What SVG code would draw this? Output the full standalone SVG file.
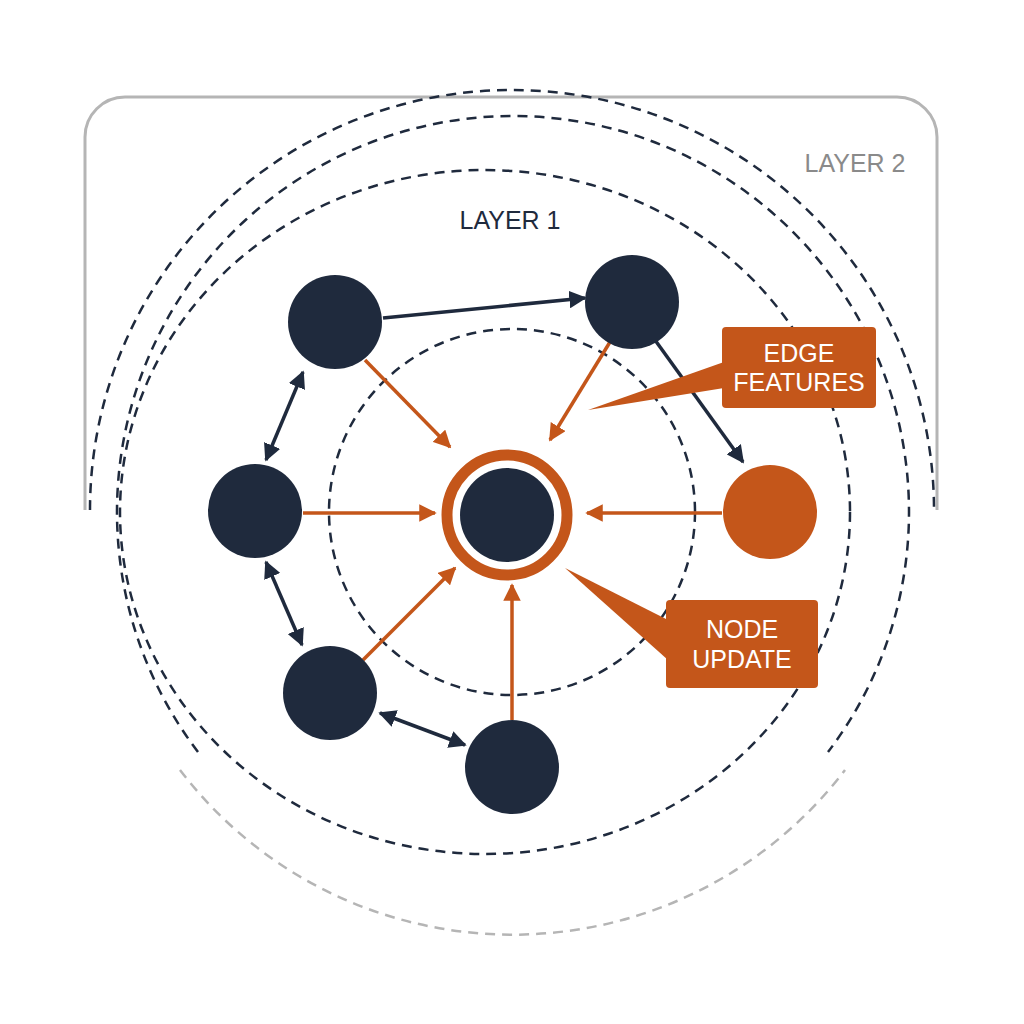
<svg xmlns="http://www.w3.org/2000/svg" width="1024" height="1024" viewBox="0 0 1024 1024">
<defs>
<style>
.n{fill:#1f2a3d}
.d{fill:none;stroke:#1f2a3d;stroke-width:2.5;stroke-dasharray:10 7}
.e{stroke:#1f2a3d;stroke-width:3.5;fill:none}
.o{stroke:#c4561a;stroke-width:3.5;fill:none}
.t{font-family:"Liberation Sans",Arial,sans-serif;font-size:25px;text-anchor:middle}
</style>
<marker id="ad" viewBox="0 0 10 10" refX="9" refY="5" markerWidth="5" markerHeight="5" orient="auto-start-reverse"><path d="M0,0L10,5L0,10z" fill="#1f2a3d"/></marker>
<marker id="ao" viewBox="0 0 10 10" refX="9" refY="5" markerWidth="5" markerHeight="5" orient="auto"><path d="M0,0L10,5L0,10z" fill="#c4561a"/></marker>
</defs>
<rect width="1024" height="1024" fill="#fff"/>
<g id="frames">
<path d="M85,510 V137 A40,40 0 0 1 125,97 H897 A40,40 0 0 1 937,137 V510" fill="none" stroke="#b5b5b5" stroke-width="3"/>
<path d="M90,510 A422,420 0 0 1 934,510" class="d"/>
<path d="M198,752 A396,396 0 1 1 828,752" class="d"/>
<path d="M180,770 A418,418 0 0 0 845,770" fill="none" stroke="#b5b5b5" stroke-width="2.5" stroke-dasharray="10 7"/>
<ellipse cx="485" cy="512" rx="365" ry="342" class="d"/>
<circle cx="512" cy="512" r="183" class="d"/>
<text x="855" y="172" class="t" fill="#8a8a8a">LAYER 2</text>
<text x="510" y="229" class="t" fill="#1f2a3d">LAYER 1</text>
</g>
<g id="connectors">
<line x1="383" y1="318" x2="585" y2="298" class="e" marker-end="url(#ad)"/>
<line x1="655" y1="340" x2="743" y2="462" class="e" marker-end="url(#ad)"/>
<line x1="303" y1="372" x2="266" y2="460" class="e" marker-start="url(#ad)" marker-end="url(#ad)"/>
<line x1="266" y1="562" x2="302" y2="645" class="e" marker-start="url(#ad)" marker-end="url(#ad)"/>
<line x1="380" y1="713" x2="465" y2="745" class="e" marker-start="url(#ad)" marker-end="url(#ad)"/>
<line x1="365" y1="360" x2="450" y2="447" class="o" marker-end="url(#ao)"/>
<line x1="610" y1="342" x2="550" y2="440" class="o" marker-end="url(#ao)"/>
<line x1="303" y1="513" x2="435" y2="513" class="o" marker-end="url(#ao)"/>
<line x1="722" y1="513" x2="587" y2="513" class="o" marker-end="url(#ao)"/>
<line x1="363" y1="660" x2="455" y2="568" class="o" marker-end="url(#ao)"/>
<line x1="512" y1="720" x2="512" y2="585" class="o" marker-end="url(#ao)"/>
</g>
<g id="center"><circle cx="507" cy="515" r="60" fill="none" stroke="#c4561a" stroke-width="11"/><circle cx="507" cy="515" r="47" class="n"/></g>
<g id="nA"><circle cx="335" cy="322" r="47" class="n"/></g>
<g id="nB"><circle cx="632" cy="302" r="47" class="n"/></g>
<g id="nC"><circle cx="255" cy="511" r="47" class="n"/></g>
<g id="nD"><circle cx="330" cy="693" r="47" class="n"/></g>
<g id="nE"><circle cx="512" cy="767" r="47" class="n"/></g>
<g id="nF"><circle cx="770" cy="512" r="47" fill="#c4561a"/></g>
<g id="edgeFeatures">
<path d="M724,362 L588,410 L724,388 Z" fill="#c4561a"/>
<rect x="722" y="327" width="154" height="81" rx="4" fill="#c4561a"/>
<text x="799" y="362" class="t" fill="#fff">EDGE</text>
<text x="799" y="391" class="t" fill="#fff">FEATURES</text>
</g>
<g id="nodeUpdate">
<path d="M668,620 L565,568 L668,660 Z" fill="#c4561a"/>
<rect x="666" y="600" width="152" height="88" rx="4" fill="#c4561a"/>
<text x="742" y="638" class="t" fill="#fff">NODE</text>
<text x="742" y="668" class="t" fill="#fff">UPDATE</text>
</g>
</svg>
